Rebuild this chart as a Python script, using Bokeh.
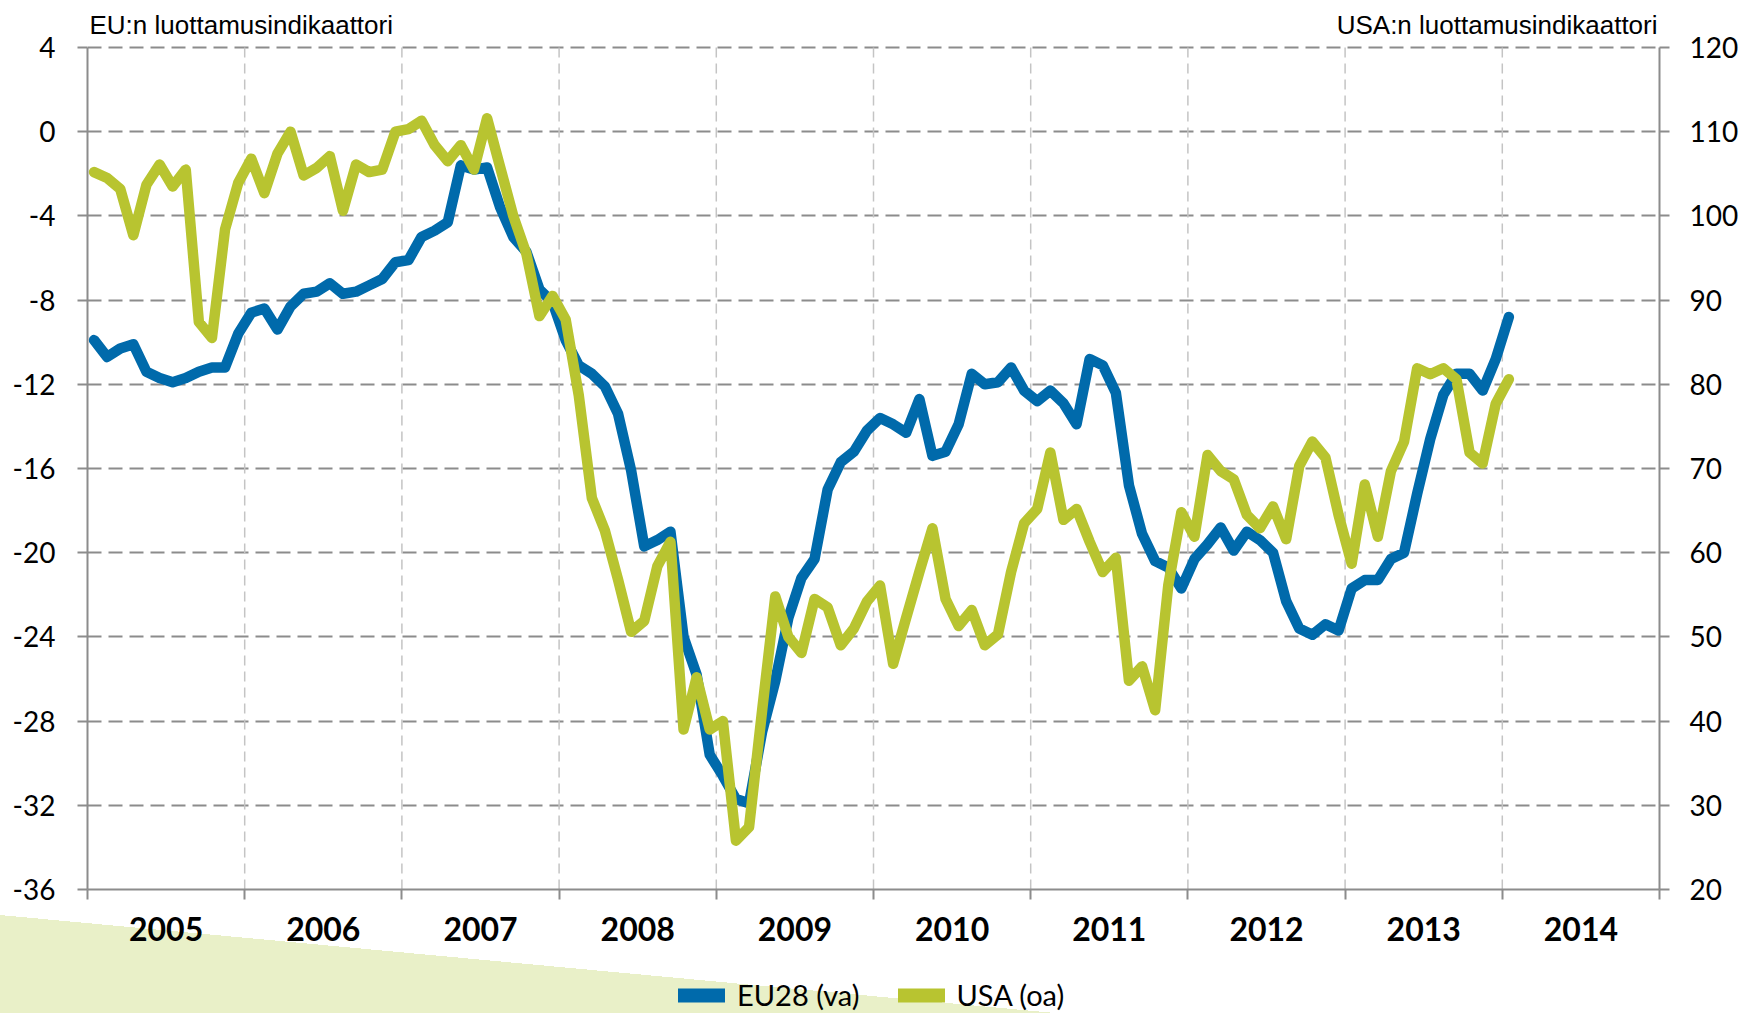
import numpy as np
from bokeh.plotting import figure
from bokeh.layouts import column
from bokeh.models import (Range1d, LinearAxis, FixedTicker, Legend, LegendItem, Label)
from bokeh.embed import file_html
from bokeh.resources import INLINE

# ---------------- data ----------------
years = ["2005", "2006", "2007", "2008", "2009", "2010", "2011", "2012", "2013", "2014"]

# EU28 confidence indicator (left axis), monthly Jan 2005 .. Jan 2014
eu28 = [
    -9.9, -10.7, -10.3, -10.1, -11.4, -11.7, -11.9, -11.7, -11.4, -11.2, -11.2, -9.6,
    -8.6, -8.4, -9.4, -8.3, -7.7, -7.6, -7.2, -7.7, -7.6, -7.3, -7.0, -6.2,
    -6.1, -5.0, -4.7, -4.3, -1.6, -1.8, -1.7, -3.6, -5.0, -5.7, -7.5, -8.1,
    -9.9, -11.1, -11.5, -12.1, -13.4, -16.1, -19.7, -19.4, -19.0, -24.0, -25.8, -29.6,
    -30.6, -31.7, -31.9, -28.5, -26.1, -23.1, -21.2, -20.3, -17.0, -15.7, -15.2, -14.2,
    -13.6, -13.9, -14.3, -12.7, -15.4, -15.2, -13.9, -11.5, -12.0, -11.9, -11.2, -12.3,
    -12.8, -12.3, -12.9, -13.9, -10.8, -11.1, -12.4, -16.8, -19.1, -20.4, -20.7, -21.7,
    -20.3, -19.6, -18.8, -19.9, -19.0, -19.4, -20.0, -22.3, -23.6, -23.9, -23.4, -23.7,
    -21.7, -21.3, -21.3, -20.3, -20.0, -17.2, -14.6, -12.5, -11.5, -11.5, -12.3, -10.8,
    -8.8,
]

# USA confidence indicator (right axis)
usa = [
    105.2, 104.5, 103.2, 97.7, 103.7, 106.1, 103.5, 105.5, 87.4, 85.5, 98.4, 103.9,
    106.8, 102.7, 107.4, 110.0, 104.8, 105.7, 107.1, 100.6, 106.1, 105.2, 105.5, 110.0,
    110.3, 111.3, 108.4, 106.5, 108.4, 105.5, 111.6, 105.8, 100.0, 95.5, 88.1, 90.5,
    87.7, 78.7, 66.5, 62.6, 56.8, 50.6, 51.9, 58.4, 61.3, 39.0, 45.2, 39.0,
    40.0, 25.8, 27.4, 41.3, 54.8, 50.0, 48.1, 54.5, 53.5, 49.0, 51.0, 54.2,
    56.1, 46.8, 52.3, 57.7, 62.9, 54.5, 51.3, 53.2, 49.0, 50.3, 57.7, 63.5,
    65.2, 71.9, 63.9, 65.2, 61.3, 57.7, 59.4, 44.8, 46.5, 41.3, 56.1, 64.8,
    61.9, 71.6, 69.7, 68.7, 64.5, 62.9, 65.5, 61.6, 70.3, 73.2, 71.3, 64.5,
    58.7, 68.1, 61.9, 69.7, 73.2, 81.9, 81.2, 81.9, 80.6, 71.9, 70.6, 77.7,
    80.6,
]

left_ticks = [-36, -32, -28, -24, -20, -16, -12, -8, -4, 0, 4]
right_ticks = [20, 30, 40, 50, 60, 70, 80, 90, 100, 110, 120]

series_names = ["EU28 (va)", "USA (oa)"]
axis_titles = ["EU:n luottamusindikaattori", "USA:n luottamusindikaattori"]

# ---------------- styles / layout ----------------
BLUE = "#006AAB"
GREEN = "#B8C430"
GRID = "#8C8C8C"
VGRID = "#C4C4C4"
WEDGE = "#E9F0C8"
NUM_FONT = "Lato"

PAGE_W, PAGE_H = 1741, 1013
CHART_H = 960         # chart figure height; the legend strip fills the rest
B_LEFT, B_RIGHT, B_BOTTOM = 87, 82, 71
AXES_H = 842          # pixel height of the value area (-36..4)
EXTRA_TOP = 47        # room above the value area for the two axis titles
ext_left = (left_ticks[-1] - left_ticks[0]) * EXTRA_TOP / AXES_H
ext_right = (right_ticks[-1] - right_ticks[0]) * EXTRA_TOP / AXES_H

n_months = 12 * len(years)
xs = [i + 0.5 for i in range(len(eu28))]

p = figure(width=PAGE_W, height=CHART_H,
           output_backend="svg", toolbar_location=None, tools="",
           x_range=Range1d(0, n_months),
           y_range=Range1d(left_ticks[0], left_ticks[-1] + ext_left),
           min_border_left=B_LEFT, min_border_right=B_RIGHT, min_border_top=0,
           min_border_bottom=B_BOTTOM)
p.extra_y_ranges = {"usa": Range1d(right_ticks[0], right_ticks[-1] + ext_right)}
p.outline_line_color = None
p.background_fill_color = "white"
p.border_fill_color = None

# grids: horizontal from the grid, vertical year separators limited to value area
p.xgrid.visible = False
bounds = [12 * k for k in range(1, len(years))]
p.segment(x0=bounds, y0=[left_ticks[0]] * len(bounds), x1=bounds,
          y1=[left_ticks[-1]] * len(bounds), line_color=VGRID, line_width=1.5,
          line_dash="10 6")
p.ygrid.ticker = FixedTicker(ticks=left_ticks[1:])
p.ygrid.grid_line_color = GRID
p.ygrid.grid_line_width = 2
p.ygrid.grid_line_dash = "14 7"

# x axis: labels at mid-year, tick marks at year boundaries (minor ticks)
xa = p.xaxis[0]
xa.ticker = FixedTicker(ticks=[12 * k + 6 for k in range(len(years))],
                        minor_ticks=[12 * k for k in range(len(years) + 1)])
xa.major_label_overrides = {12 * k + 6: y for k, y in enumerate(years)}
xa.axis_line_color = GRID
xa.axis_line_width = 2
xa.major_tick_out = 0
xa.major_tick_in = 0
xa.major_tick_line_color = None
xa.minor_tick_out = 10
xa.minor_tick_in = 0
xa.minor_tick_line_color = GRID
xa.minor_tick_line_width = 2
xa.major_label_text_font = NUM_FONT
xa.major_label_text_font_style = "bold"
xa.major_label_text_font_size = "32px"
xa.major_label_text_color = "black"
xa.major_label_standoff = 17

# left axis
ya = p.yaxis[0]
ya.ticker = FixedTicker(ticks=left_ticks)
ya.bounds = (left_ticks[0], left_ticks[-1])
ya.major_label_overrides = {v: str(v) for v in left_ticks}
ya.axis_line_color = GRID
ya.axis_line_width = 2
ya.major_tick_out = 10
ya.major_tick_in = 0
ya.major_tick_line_color = GRID
ya.major_tick_line_width = 2
ya.minor_tick_line_color = None
ya.major_label_text_font = NUM_FONT
ya.major_label_text_font_size = "28px"
ya.major_label_text_color = "black"
ya.major_label_standoff = 22

# right axis
ra = LinearAxis(y_range_name="usa", ticker=FixedTicker(ticks=right_ticks),
                bounds=(right_ticks[0], right_ticks[-1]))
ra.major_label_overrides = {v: str(v) for v in right_ticks}
ra.axis_line_color = GRID
ra.axis_line_width = 2
ra.major_tick_out = 10
ra.major_tick_in = 0
ra.major_tick_line_color = GRID
ra.major_tick_line_width = 2
ra.minor_tick_line_color = None
ra.major_label_text_font = NUM_FONT
ra.major_label_text_font_size = "28px"
ra.major_label_text_color = "black"
ra.major_label_standoff = 20
p.add_layout(ra, "right")

# series
p.line(xs, eu28, line_color=BLUE, line_width=10.5, line_join="round", line_cap="round")
p.line(xs, usa, line_color=GREEN, line_width=10.5, line_join="round", line_cap="round",
       y_range_name="usa")

# axis titles above the value area
p.add_layout(Label(x=0, y=left_ticks[-1], x_offset=2, y_offset=23, text=axis_titles[0],
                   text_font="Liberation Sans", text_font_size="26px",
                   text_baseline="middle", text_align="left", text_color="black"))
p.add_layout(Label(x=n_months, y=left_ticks[-1], x_offset=-2, y_offset=23,
                   text=axis_titles[1], text_font="Liberation Sans",
                   text_font_size="26px", text_baseline="middle",
                   text_align="right", text_color="black"))

# ---------------- legend strip ----------------
strip_h = PAGE_H - CHART_H
leg = figure(width=PAGE_W, height=strip_h, output_backend="svg",
             toolbar_location=None, tools="", x_range=Range1d(0, PAGE_W),
             y_range=Range1d(0, strip_h), x_axis_location=None,
             y_axis_location=None, min_border=0)
leg.grid.visible = False
leg.outline_line_color = None
leg.background_fill_color = None
leg.border_fill_color = None
proxy = np.array([np.nan, np.nan])   # legend-only proxies, nothing drawn
sw_eu = leg.line(proxy, proxy, line_color=BLUE, line_width=14, line_cap="round")
sw_us = leg.line(proxy, proxy, line_color=GREEN, line_width=14, line_cap="round")
legend = Legend(items=[LegendItem(label=series_names[0], renderers=[sw_eu]),
                       LegendItem(label=series_names[1], renderers=[sw_us])],
                orientation="horizontal", location=(591, 1),
                glyph_width=47, glyph_height=30, label_height=30,
                label_standoff=12, spacing=38,
                padding=0, margin=0, border_line_color=None,
                background_fill_alpha=0,
                label_text_font=NUM_FONT, label_text_font_size="29px",
                label_text_color="black")
leg.add_layout(legend)

page = column(p, leg, spacing=0)
# pale green decorative wedge at the bottom-left of the page (CSS background)
page.styles = {
    "background-color": "white",
    "background-image": f"linear-gradient(to top right, {WEDGE} 50%, rgba(255,255,255,0) 50%)",
    "background-size": "1055px 98px",
    "background-position": "0px 915px",
    "background-repeat": "no-repeat",
}

open("out.html", "w").write(file_html(page, INLINE))
